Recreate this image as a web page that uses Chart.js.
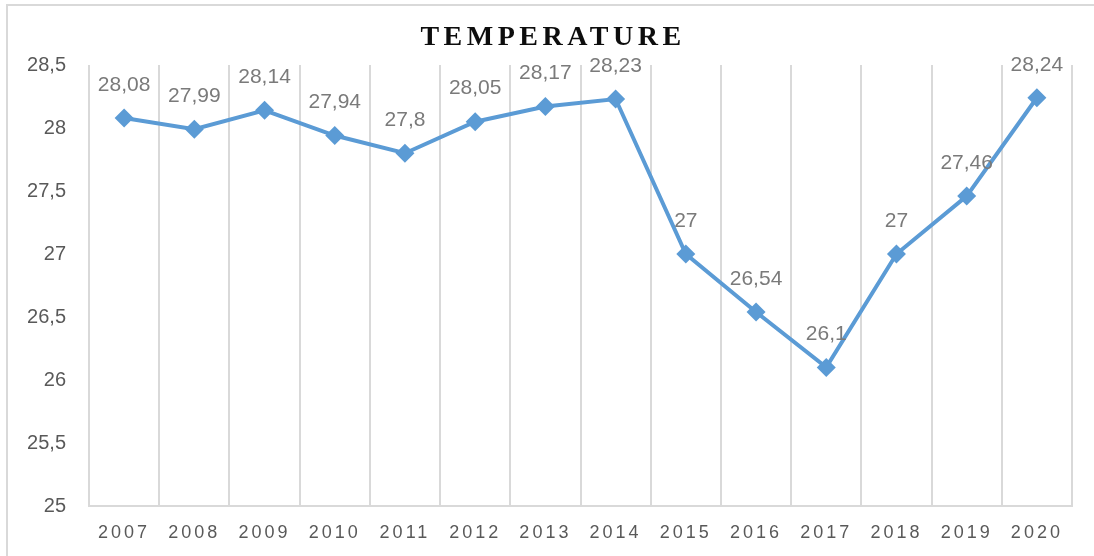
<!DOCTYPE html>
<html>
<head>
<meta charset="utf-8">
<script src="https://cdn.jsdelivr.net/npm/chart.js@4.4.0/dist/chart.umd.min.js"></script>
<style>
  html, body { margin: 0; padding: 0; background: #fff; overflow: hidden; }
  #frame {
    position: absolute; left: 6px; top: 4px; width: 1200px; height: 700px;
    border: 2px solid #d9d9d9; box-sizing: border-box;
  }
  #wrap { position: absolute; left: 0; top: 0; width: 1094px; height: 556px; }
</style>
</head>
<body>
<div id="frame"></div>
<div id="wrap"><canvas id="tempChart"></canvas></div>
<script>
const years = ["2007", "2008", "2009", "2010", "2011", "2012", "2013", "2014", "2015", "2016", "2017", "2018", "2019", "2020"];
const temperature = [28.08, 27.99, 28.14, 27.94, 27.8, 28.05, 28.17, 28.23, 27, 26.54, 26.1, 27, 27.46, 28.24];
const yTicks = [25, 25.5, 26, 26.5, 27, 27.5, 28, 28.5];

const fmt = (v) => String(v).replace(".", ",");

// letter spacing for x labels and title (title nudged right to sit over the plot)
const spacingPlugin = {
  id: "spacing",
  beforeDraw(chart) {
    const s = chart.scales.x;
    if (s && !s._spaced) {
      const orig = s.drawLabels;
      s.drawLabels = function (area) {
        this.ctx.save();
        this.ctx.letterSpacing = "3px";
        orig.call(this, area);
        this.ctx.restore();
      };
      s._spaced = true;
    }
    const t = chart.titleBlock;
    if (t && !t._spaced) {
      const origT = t.draw;
      t.draw = function () {
        this.ctx.save();
        this.ctx.translate(17, 0);
        this.ctx.letterSpacing = "4.5px";
        origT.call(this);
        this.ctx.restore();
      };
      t._spaced = true;
    }
  },
};

const valueLabels = {
  id: "valueLabels",
  afterDatasetsDraw(chart) {
    const ctx = chart.ctx;
    const meta = chart.getDatasetMeta(0);
    ctx.save();
    ctx.font = "21px 'Liberation Sans', Arial, sans-serif";
    ctx.fillStyle = "#7a7a7a";
    ctx.textAlign = "center";
    ctx.textBaseline = "middle";
    meta.data.forEach((pt, i) => {
      ctx.fillText(fmt(temperature[i]), pt.x, pt.y - 33);
    });
    ctx.restore();
  },
};

const ctx = document.getElementById("tempChart").getContext("2d");
new Chart(ctx, {
  type: "line",
  data: {
    labels: years,
    datasets: [
      {
        label: "Temperature",
        data: temperature,
        borderColor: "#5b9bd5",
        backgroundColor: "#5b9bd5",
        borderWidth: 4,
        pointStyle: "rectRot",
        pointRadius: 9.5,
        pointHoverRadius: 9.5,
        pointBorderWidth: 0,
        tension: 0,
        fill: false,
      },
    ],
  },
  options: {
    responsive: true,
    maintainAspectRatio: false,
    animation: false,
    events: [],
    layout: { padding: { left: 0, right: 22, top: 0, bottom: 0 } },
    scales: {
      x: {
        offset: true,
        grid: { display: true, offset: true, color: "#d9d9d9", lineWidth: 2, drawTicks: false },
        border: { display: true, color: "#d9d9d9", width: 2 },
        ticks: {
          color: "#595959",
          font: { family: "'Liberation Sans', Arial, sans-serif", size: 18 },
          padding: 16,
          maxRotation: 0,
          autoSkip: false,
        },
        afterFit(scale) {
          scale.height = 50;
        },
      },
      y: {
        min: 25,
        max: 28.5,
        afterBuildTicks(scale) {
          scale.ticks = yTicks.map((v) => ({ value: v }));
        },
        grid: { display: false, drawTicks: false },
        border: { display: false },
        ticks: {
          color: "#595959",
          font: { family: "'Liberation Sans', Arial, sans-serif", size: 20 },
          padding: 23,
          callback: (v) => fmt(v),
        },
        afterFit(scale) {
          scale.width = 89;
        },
      },
    },
    plugins: {
      legend: { display: false },
      tooltip: { enabled: false },
      title: {
        display: true,
        text: "TEMPERATURE",
        color: "#0d0d0d",
        font: { family: "'Liberation Serif', 'Times New Roman', serif", size: 28, weight: "bold" },
        padding: { top: 21, bottom: 10.4 },
      },
    },
  },
  plugins: [spacingPlugin, valueLabels],
});
</script>
</body>
</html>
